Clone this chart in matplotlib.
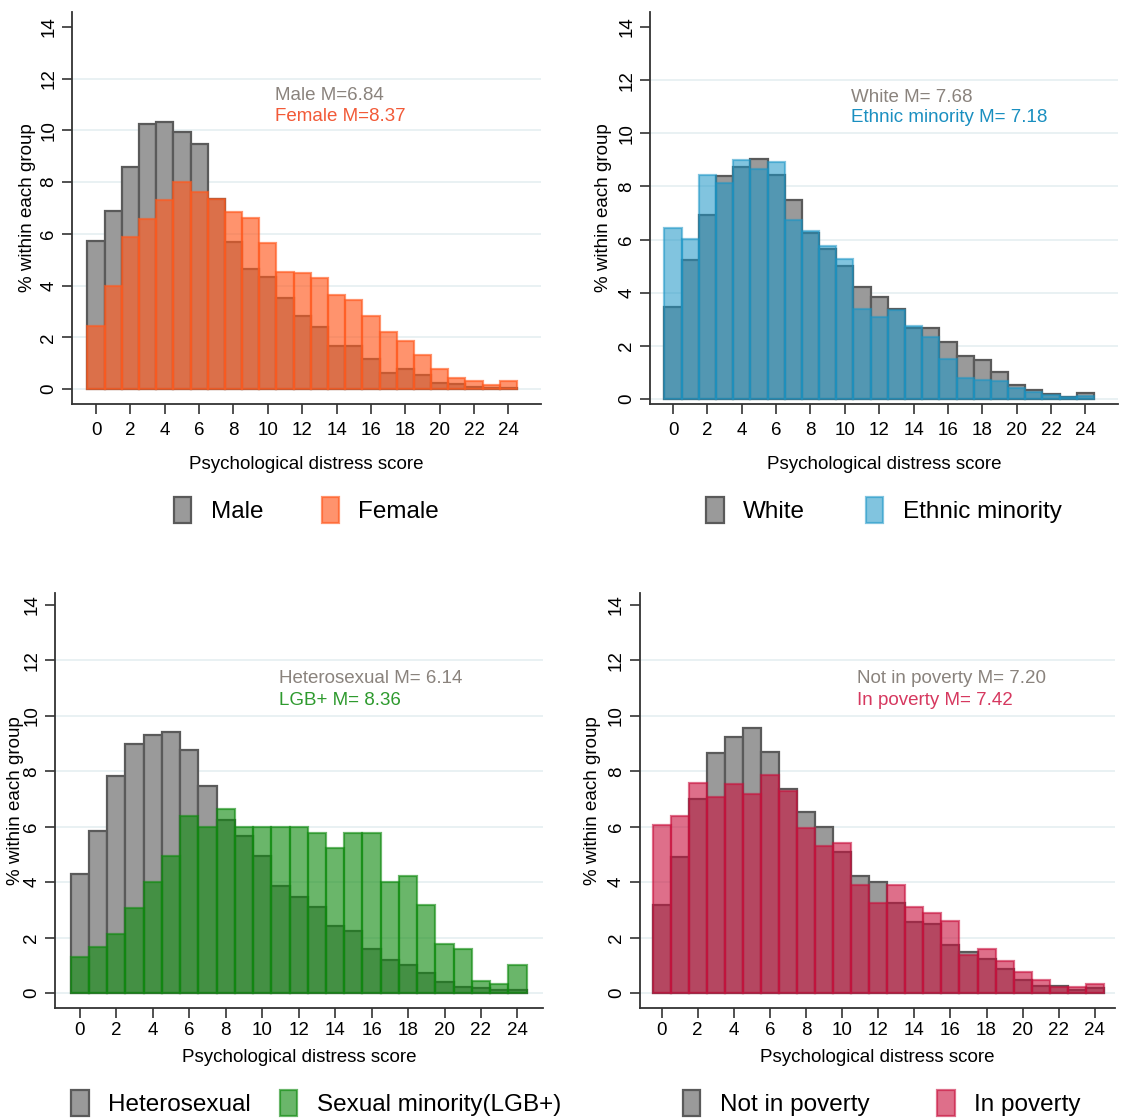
import matplotlib
matplotlib.use("Agg")
import matplotlib.pyplot as plt
from matplotlib.patches import Patch

plt.rcParams['font.family'] = ['Liberation Sans', 'DejaVu Sans']

scores = list(range(25))

# panel 1: gender
male = [5.72, 6.89, 8.60, 10.23, 10.31, 9.92, 9.46, 7.35, 5.67, 4.65, 4.35, 3.53, 2.83,
        2.40, 1.67, 1.67, 1.16, 0.62, 0.78, 0.54, 0.23, 0.21, 0.08, 0.05, 0.05]
female = [2.42, 3.98, 5.87, 6.56, 7.31, 8.01, 7.62, 7.33, 6.86, 6.63, 5.66, 4.53, 4.48,
          4.29, 3.64, 3.45, 2.82, 2.22, 1.86, 1.30, 0.78, 0.43, 0.31, 0.14, 0.31]

# panel 2: ethnicity
white = [3.48, 5.22, 6.94, 8.38, 8.73, 9.02, 8.43, 7.50, 6.25, 5.66, 4.99, 4.21, 3.85,
         3.38, 2.67, 2.67, 2.13, 1.61, 1.46, 1.02, 0.54, 0.35, 0.18, 0.08, 0.23]
ethnic = [6.45, 6.04, 8.42, 8.13, 8.98, 8.65, 8.91, 6.73, 6.34, 5.77, 5.26, 3.40, 3.07,
          3.33, 2.75, 2.35, 1.52, 0.79, 0.73, 0.69, 0.43, 0.26, 0.13, 0.08, 0.10]

# panel 3: sexual orientation
hetero = [4.30, 5.83, 7.82, 9.00, 9.31, 9.43, 8.77, 7.47, 6.24, 5.65, 4.93, 3.86, 3.47,
          3.11, 2.43, 2.25, 1.58, 1.20, 1.00, 0.71, 0.40, 0.22, 0.18, 0.10, 0.12]
lgb = [1.29, 1.66, 2.14, 3.07, 4.01, 4.96, 6.37, 5.99, 6.64, 5.99, 5.99, 5.99, 5.99,
       5.79, 5.25, 5.79, 5.79, 4.01, 4.21, 3.18, 1.77, 1.58, 0.44, 0.34, 1.00]

# panel 4: poverty
not_poor = [3.16, 4.90, 7.01, 8.67, 9.25, 9.56, 8.69, 7.36, 6.53, 5.99, 5.10, 4.24, 4.01,
            3.23, 2.58, 2.49, 1.73, 1.49, 1.23, 0.87, 0.46, 0.27, 0.25, 0.10, 0.19]
poor = [6.05, 6.39, 7.59, 7.07, 7.55, 7.19, 7.87, 7.28, 5.96, 5.30, 5.41, 3.89, 3.23,
        3.88, 3.12, 2.90, 2.61, 1.39, 1.58, 1.17, 0.76, 0.47, 0.22, 0.21, 0.34]

y_ticks = [0, 2, 4, 6, 8, 10, 12, 14]
x_ticks = list(range(0, 25, 2))

GRAY_FACE = '#9a9a9a'
GRAY_EDGE = '#5a5a5a'
TEXT_GRAY = '#8a837d'


def draw_panel(fig, rect, xlim, ylim, base, other, labels, color, alpha,
               notes, note_color, note_pos, ylab_x, leg_xy, colspace, xpad, lpad):
    ax = fig.add_axes(rect)
    for t in y_ticks[:-1]:
        ax.axhline(t, color='#e9f1f3', lw=1.4, zorder=0)
    ax.bar(scores, base, width=1.0, color=GRAY_FACE, edgecolor=GRAY_EDGE,
           linewidth=1.6, zorder=2)
    ax.bar(scores, other, width=1.0, color=color, edgecolor=color, alpha=alpha,
           linewidth=1.6, zorder=3)
    ax.set_xlim(*xlim)
    ax.set_ylim(*ylim)
    ax.set_xticks(x_ticks)
    ax.set_yticks(y_ticks)
    ax.tick_params(axis='both', labelsize=13.5, length=7, width=1.2, color='#333333')
    ax.tick_params(axis='x', pad=xpad)
    for lab in ax.get_yticklabels():
        lab.set_rotation(90)
        lab.set_va('center')
    for s in ['top', 'right']:
        ax.spines[s].set_visible(False)
    for s in ['left', 'bottom']:
        ax.spines[s].set_color('#333333')
        ax.spines[s].set_linewidth(1.3)
    ax.set_xlabel('Psychological distress score', fontsize=13.5, labelpad=lpad)
    ax.set_ylabel('% within each group', fontsize=13.5)
    ax.yaxis.set_label_coords(ylab_x, 0.5)

    ax.text(note_pos[0], note_pos[1], notes[0], transform=ax.transAxes,
            fontsize=13.5, color=TEXT_GRAY, va='center')
    ax.text(note_pos[0], note_pos[1] - 0.053, notes[1], transform=ax.transAxes,
            fontsize=13.5, color=note_color, va='center')

    handles = [Patch(facecolor=GRAY_FACE, edgecolor=GRAY_EDGE, linewidth=1.6),
               Patch(facecolor=color, edgecolor=color, alpha=alpha, linewidth=1.6)]
    ax.legend(handles, labels, loc='center', bbox_to_anchor=leg_xy, ncol=2,
              frameon=False, fontsize=17.5, handlelength=0.72, handleheight=1.25,
              handletextpad=0.8, columnspacing=colspace)
    return ax


fig = plt.figure(figsize=(11.26, 11.20), dpi=100)

draw_panel(fig, [0.0639, 0.6393, 0.4166, 0.35], (-1.4, 25.9), (-0.58, 14.58),
           male, female, ['Male', 'Female'], '#ff5a1f', 0.65,
           ['Male M=6.84', 'Female M=8.37'], '#f25a38', (0.433, 0.786),
           -0.077, (0.5, -0.27), 2.4, 6, 12)

draw_panel(fig, [0.5773, 0.6393, 0.4156, 0.35], (-1.34, 25.9), (-0.19, 14.57),
           white, ethnic, ['White', 'Ethnic minority'], '#1a95c6', 0.55,
           ['White M= 7.68', 'Ethnic minority M= 7.18'], '#1a8fc0', (0.4295, 0.783),
           -0.081, (0.5, -0.27), 2.5, 6, 12)

draw_panel(fig, [0.0488, 0.10, 0.4334, 0.3705], (-1.37, 25.4), (-0.54, 14.43),
           hetero, lgb, ['Heterosexual', 'Sexual minority(LGB+)'], '#0f8a0f', 0.62,
           ['Heterosexual M= 6.14', 'LGB+ M= 8.36'], '#2e9a2e', (0.459, 0.793),
           -0.064, (0.535, -0.229), 1.2, 3, 7)

draw_panel(fig, [0.568, 0.10, 0.422, 0.3705], (-1.22, 25.1), (-0.54, 14.43),
           not_poor, poor, ['Not in poverty', 'In poverty'], '#c8103c', 0.6,
           ['Not in poverty M= 7.20', 'In poverty M= 7.42'], '#d6385f', (0.457, 0.793),
           -0.082, (0.51, -0.229), 2.8, 3, 7)

fig.savefig('out.png', dpi=100)
